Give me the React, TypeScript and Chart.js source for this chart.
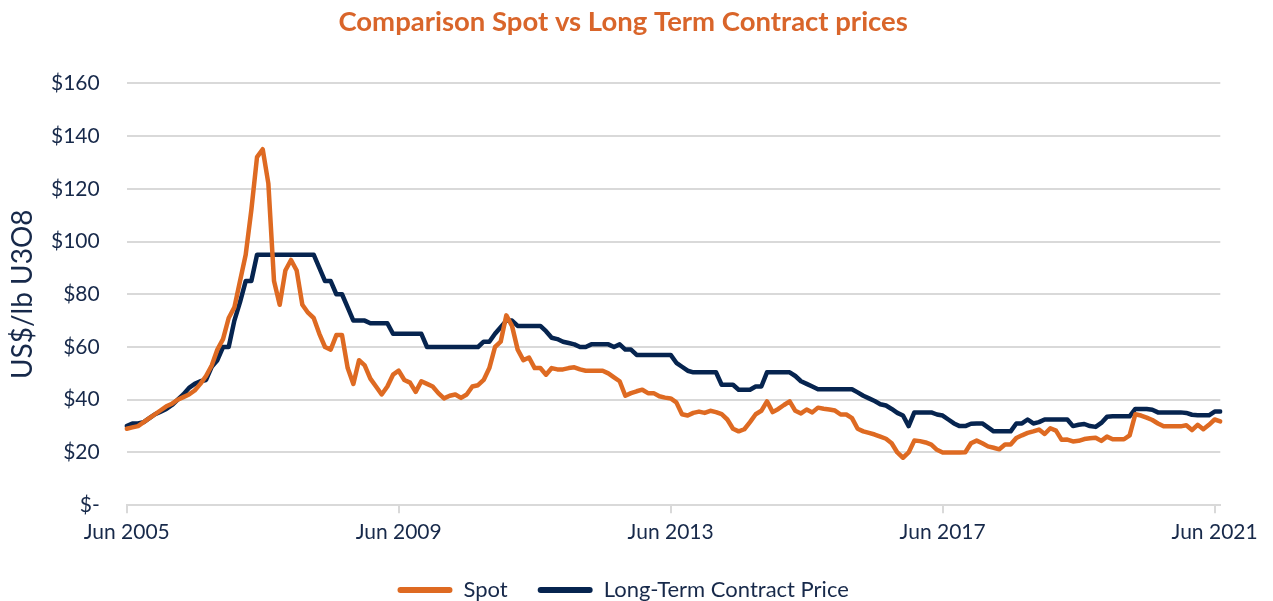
import React, { useEffect, useRef } from "react";
import { Chart, registerables } from "chart.js";

Chart.register(...registerables);

// Monthly uranium prices (US$/lb U3O8), Jun 2005 .. Jul 2021
const spot2005 = [29, 29.5, 30, 31.5, 33, 34.5, 36];
const spot2006 = [37.5, 38.5, 40, 41, 42, 43.5, 46, 49, 53, 59, 63, 71];
const spot2007 = [75, 85, 95, 112, 132, 135, 122, 85, 76, 89, 93, 89];
const spot2008 = [76, 73, 71, 65, 60, 59, 64.5, 64.5, 52, 46, 55, 53];
const spot2009 = [48, 45, 42, 45, 49.5, 51, 47.5, 46.5, 43, 47, 46, 45];
const spot2010 = [42.5, 40.5, 41.5, 42, 40.7, 42, 45, 45.5, 47.5, 52, 60, 62];
const spot2011 = [72, 68, 59, 55, 56, 52, 52, 49.5, 52, 51.5, 51.5, 52];
const spot2012 = [52.3, 51.5, 51, 51, 51, 51, 50, 48.5, 47, 41.5, 42.5, 43.2];
const spot2013 = [43.8, 42.5, 42.5, 41.3, 40.8, 40.5, 39, 34.5, 34, 35, 35.5, 35];
const spot2014 = [35.8, 35.3, 34.5, 32.5, 29, 28, 28.8, 31.5, 34.5, 35.8, 39.4, 35.3];
const spot2015 = [36.5, 38, 39.4, 35.8, 34.8, 36.3, 35.2, 37, 36.6, 36.3, 35.9, 34.4];
const spot2016 = [34.4, 33, 29, 28, 27.4, 26.8, 26, 25.2, 23.5, 20, 18, 20];
const spot2017 = [24.5, 24.3, 23.8, 23, 21, 20, 20, 20, 20, 20.1, 23.5, 24.5];
const spot2018 = [23.5, 22.3, 21.8, 21.2, 23, 23, 25.5, 26.5, 27.4, 28, 28.7, 27];
const spot2019 = [29.2, 28.3, 24.8, 24.9, 24.2, 24.4, 25.1, 25.4, 25.6, 24.4, 26, 25];
const spot2020 = [25, 25, 26.5, 34.5, 34, 33.2, 32.3, 31, 29.9, 29.9, 29.9, 29.9];
const spot2021 = [30.3, 28.5, 30.5, 28.8, 30.5, 32.5, 31.8];

const lt2005 = [30, 31, 31, 31.5, 33, 34.5, 35.5];
const lt2006 = [36.5, 38, 40, 42, 44.5, 46, 47, 47.5, 52.5, 55, 60, 60];
const lt2007 = [70, 77, 85, 85, 95, 95, 95, 95, 95, 95, 95, 95];
const lt2008 = [95, 95, 95, 90, 85, 85, 80, 80, 75, 70, 70, 70];
const lt2009 = [69, 69, 69, 69, 65, 65, 65, 65, 65, 65, 60, 60];
const lt2010 = [60, 60, 60, 60, 60, 60, 60, 60, 62, 62, 65, 67.5];
const lt2011 = [70, 70, 68, 68, 68, 68, 68, 66, 63.5, 63, 62, 61.5];
const lt2012 = [61, 60, 60, 61, 61, 61, 61, 60, 61, 59, 59, 57];
const lt2013 = [57, 57, 57, 57, 57, 57, 54, 52.5, 51, 50.4, 50.4, 50.4];
const lt2014 = [50.4, 50.4, 45.7, 45.7, 45.7, 43.8, 43.8, 43.8, 45, 45, 50.4, 50.4];
const lt2015 = [50.4, 50.4, 50.4, 49, 47, 46, 45, 44, 44, 44, 44, 44];
const lt2016 = [44, 44, 42.8, 41.5, 40.5, 39.5, 38.3, 37.8, 36.5, 35, 34, 30];
const lt2017 = [35.2, 35.2, 35.2, 35.2, 34.4, 34, 32.5, 31, 30, 30, 30.9, 31];
const lt2018 = [31, 29.5, 28, 28, 28, 28, 31, 31, 32.5, 31, 31.5, 32.5];
const lt2019 = [32.5, 32.5, 32.5, 32.5, 30, 30.5, 30.8, 30, 29.7, 31.2, 33.5, 33.7];
const lt2020 = [33.7, 33.7, 33.7, 36.5, 36.5, 36.5, 36.2, 35.2, 35.2, 35.2, 35.2, 35.2];
const lt2021 = [35, 34.3, 34.1, 34.1, 34.1, 35.5, 35.5];

const spotPrices = [
  ...spot2005, ...spot2006, ...spot2007, ...spot2008, ...spot2009, ...spot2010,
  ...spot2011, ...spot2012, ...spot2013, ...spot2014, ...spot2015, ...spot2016,
  ...spot2017, ...spot2018, ...spot2019, ...spot2020, ...spot2021,
];
const contractPrices = [
  ...lt2005, ...lt2006, ...lt2007, ...lt2008, ...lt2009, ...lt2010,
  ...lt2011, ...lt2012, ...lt2013, ...lt2014, ...lt2015, ...lt2016,
  ...lt2017, ...lt2018, ...lt2019, ...lt2020, ...lt2021,
];

const monthNames = ["Jan", "Feb", "Mar", "Apr", "May", "Jun", "Jul", "Aug", "Sep", "Oct", "Nov", "Dec"];
const firstYear = 2005;
const firstMonth = 5; // June
const categories = spotPrices.map((_, i) => {
  const m = firstMonth + i;
  return `${monthNames[m % 12]} ${firstYear + Math.floor(m / 12)}`;
});
const xTickLabels = ["Jun 2005", "Jun 2009", "Jun 2013", "Jun 2017", "Jun 2021"];

const seriesNames = ["Spot", "Long-Term Contract Price"];
const yMin = 0;
const yMax = 160;
const yStep = 20;

const ORANGE = "#DE6A22";
const NAVY = "#06244F";
const TEXT = "#17294A";
const GRID = "#D9D9D9";
const FONT = "Lato";

export default function App() {
  const ref = useRef<HTMLCanvasElement | null>(null);

  useEffect(() => {
    if (!ref.current) return;
    const chart = new Chart(ref.current, {
      type: "line",
      data: {
        labels: categories,
        datasets: [
          {
            label: seriesNames[0],
            data: spotPrices,
            borderColor: ORANGE,
            backgroundColor: ORANGE,
            borderWidth: 4.5,
            pointRadius: 0,
            tension: 0,
            borderJoinStyle: "round",
            borderCapStyle: "round",
          },
          {
            label: seriesNames[1],
            data: contractPrices,
            borderColor: NAVY,
            backgroundColor: NAVY,
            borderWidth: 4.5,
            pointRadius: 0,
            tension: 0,
            borderJoinStyle: "round",
            borderCapStyle: "round",
          },
        ],
      },
      options: {
        responsive: false,
        animation: false,
        layout: { padding: { left: 26, right: 52.7, top: 0, bottom: -10 } },
        plugins: {
          title: {
            display: true,
            text: "Comparison Spot vs Long Term Contract prices",
            color: "#D9652A",
            font: { family: FONT, size: 27.5, weight: "bold" },
            padding: { top: 6, bottom: 44.3 },
          },
          legend: {
            display: true,
            position: "bottom",
            labels: {
              color: TEXT,
              font: { family: FONT, size: 22 },
              boxWidth: 55,
              boxHeight: 6,
              padding: 30,
              useBorderRadius: true,
              borderRadius: 3,
              generateLabels: (c: any) =>
                Chart.defaults.plugins.legend.labels
                  .generateLabels(c)
                  .map((it: any) => ({ ...it, lineWidth: 0, borderRadius: 3 })),
            },
          },
          tooltip: { enabled: false },
        },
        scales: {
          x: {
            type: "category",
            offset: false,
            afterBuildTicks: (scale: any) => {
              scale.ticks = scale.ticks.filter((t: any) =>
                xTickLabels.includes(categories[t.value])
              );
            },
            afterFit: (scale: any) => {
              scale.height = 43.8;
            },
            ticks: {
              autoSkip: false,
              maxRotation: 0,
              minRotation: 0,
              color: TEXT,
              font: { family: FONT, size: 21 },
              padding: 6,
            },
            grid: {
              display: true,
              drawOnChartArea: false,
              drawTicks: true,
              tickLength: 8,
              color: GRID,
              lineWidth: 2,
            },
            border: { display: true, color: GRID, width: 2 },
          },
          y: {
            min: yMin,
            max: yMax,
            afterFit: (scale: any) => {
              scale.width = 100.7;
            },
            ticks: {
              stepSize: yStep,
              color: TEXT,
              font: { family: FONT, size: 21 },
              padding: 27,
              callback: (v: any) => (Number(v) === 0 ? "$-" : "$" + v),
            },
            grid: { color: GRID, lineWidth: 2, drawTicks: false },
            border: { display: false },
            title: {
              display: true,
              text: "US$/lb U3O8",
              color: TEXT,
              font: { family: FONT, size: 28 },
              padding: { top: -20, bottom: 0 },
            },
          },
        },
      },
    } as any);
    return () => chart.destroy();
  }, []);

  return (
    <div style={{ position: "fixed", left: 0, top: 0, width: 1273, height: 601, background: "#fff" }}>
      <canvas ref={ref} width={1273} height={601} style={{ display: "block" }} />
    </div>
  );
}
